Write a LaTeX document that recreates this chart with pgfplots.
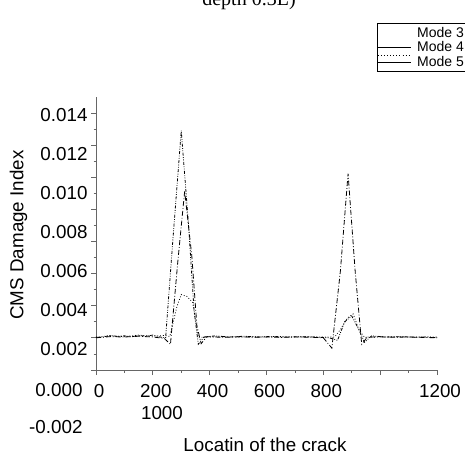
\documentclass[border=0pt]{standalone}
\usepackage{pgfplots}
\pgfplotsset{compat=1.18}
\usepackage{fontspec}
\setmainfont{Liberation Sans}
\newfontfamily\seriffont{Liberation Serif}

% CMS damage index along the beam, one table per mode
\pgfplotstableread{
x y
0 0.00260
25 0.00262
50 0.00270
75 0.00265
100 0.00268
125 0.00263
150 0.00270
175 0.00266
200 0.00272
225 0.00262
245 0.00258
270 0.00750
300 0.01320
325 0.00850
345 0.00400
360 0.00225
380 0.00262
420 0.00268
470 0.00262
520 0.00266
570 0.00262
620 0.00265
670 0.00262
720 0.00264
770 0.00262
820 0.00258
850 0.00245
875 0.00340
900 0.00370
925 0.00300
945 0.00235
970 0.00268
1020 0.00262
1070 0.00264
1120 0.00261
1170 0.00262
1200 0.00258
}\modethree

\pgfplotstableread{
x y
0 0.00258
50 0.00264
100 0.00262
150 0.00266
200 0.00262
240 0.00255
262 0.00225
288 0.00650
312 0.01010
337 0.00680
355 0.00320
370 0.00228
390 0.00264
450 0.00260
500 0.00263
550 0.00261
600 0.00262
650 0.00260
700 0.00262
750 0.00261
800 0.00258
830 0.00205
860 0.00600
887 0.01100
912 0.00600
935 0.00225
955 0.00262
1000 0.00263
1050 0.00261
1100 0.00262
1150 0.00260
1200 0.00258
}\modefour

\pgfplotstableread{
x y
0 0.00262
50 0.00268
100 0.00264
150 0.00272
200 0.00266
240 0.00270
260 0.00265
285 0.00420
300 0.00480
320 0.00470
340 0.00440
360 0.00260
390 0.00262
450 0.00264
500 0.00262
550 0.00263
600 0.00262
650 0.00264
700 0.00262
750 0.00263
800 0.00262
840 0.00262
860 0.00300
885 0.00360
905 0.00380
925 0.00300
945 0.00260
1000 0.00262
1050 0.00263
1100 0.00262
1150 0.00262
1200 0.00262
}\modefive

\begin{document}
\begin{tikzpicture}
\useasboundingbox (0,0) rectangle (465pt,-455pt);

\node[anchor=base, font=\seriffont\fontsize{20}{24}\selectfont] at (249pt,-5.5pt) {depth 0.3L)};

\begin{axis}[
  at={(96pt,-370pt)}, anchor=south west,
  scale only axis,
  width=341pt, height=273pt,
  xmin=0, xmax=1200,
  ymin=0.000928, ymax=0.014928,
  scaled y ticks=false,
  axis lines*=left,
  axis line style={black!60, line width=0.8pt},
  tick align=outside,
  every tick/.style={black!60, line width=0.8pt},
  major tick length=5pt,
  minor tick length=2.5pt,
  clip=false,
  font=\fontsize{18.8}{22}\selectfont,
  /pgf/number format/assume math mode=true,
  xtick={0,200,400,600,800,1000,1200},
  xticklabels={0,200,400,600,800,,1200},
  minor xtick={100,300,500,700,900,1100},
  xticklabel style={xshift=3pt, yshift=-6pt},
  ytick={0.000928,0.002575,0.004223,0.005870,0.007517,0.009164,0.010811,0.012458,0.014106},
  yticklabels={},
  minor ytick={0.001752,0.003399,0.005046,0.006693,0.008340,0.009988,0.011635,0.013282},
  extra y ticks={0.002,0.004,0.006,0.008,0.010,0.012,0.014},
  extra y tick labels={0.002,0.004,0.006,0.008,0.010,0.012,0.014},
  extra y tick style={tick style={draw=none}},
  xlabel={Locatin of the crack},
  ylabel={CMS Damage Index},
  xlabel style={at={(axis description cs:0.4956,-0.2747)}, anchor=center},
  ylabel style={at={(axis description cs:-0.2273,0.4945)}, anchor=center},
  legend style={at={(0.824,1.27)}, anchor=north west,
    font=\fontsize{14}{14.5}\selectfont, draw=black, line width=0.8pt,
    inner xsep=0pt, inner ysep=1.5pt, row sep=-1pt,
    cells={anchor=west}},
  legend cell align=left,
]
\addplot[black, line width=0.8pt,
  dash pattern=on 3pt off 1.5pt on 0.8pt off 1.5pt on 0.8pt off 1.5pt,
  legend image code/.code={\path[draw=none] (0pt,0pt) -- (33pt,0pt);}]
  table[x=x, y=y] {\modethree};
\addlegendentry{\hspace*{4pt}Mode 3\hspace*{30pt}}
\addplot[black, line width=0.8pt,
  dash pattern=on 5pt off 2pt on 0.8pt off 2pt,
  legend image code/.code={\draw[solid, line width=0.8pt] (0pt,0pt) -- (33pt,0pt);}]
  table[x=x, y=y] {\modefour};
\addlegendentry{\hspace*{4pt}Mode 4\hspace*{30pt}}
\addplot[black, line width=0.8pt,
  dash pattern=on 0.8pt off 2pt,
  legend image code/.code={\draw[line width=0.6pt, dash pattern=on 0.6pt off 2.5pt] (0pt,7pt) -- (33pt,7pt);
    \draw[solid, line width=0.8pt] (0pt,0pt) -- (33pt,0pt);}]
  table[x=x, y=y] {\modefive};
\addlegendentry{\hspace*{4pt}Mode 5\hspace*{30pt}}

\node[anchor=east] at (axis description cs:-0.0293,-0.0733) {0.000};
\node[anchor=east] at (axis description cs:-0.0293,-0.2088) {-0.002};
\node[anchor=center] at (axis description cs:0.1935,-0.1575) {1000};
\end{axis}
\end{tikzpicture}
\end{document}
